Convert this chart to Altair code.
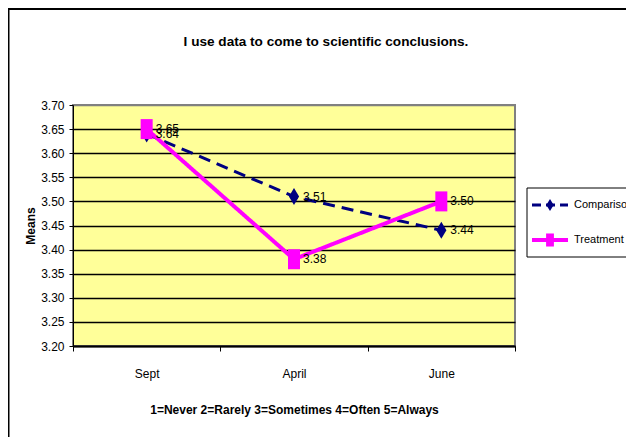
import altair as alt
import pandas as pd

# ---- data ----
months = ["Sept", "April", "June"]
series = ["Comparison", "Treatment"]
comparison = [3.64, 3.51, 3.44]
treatment = [3.65, 3.38, 3.50]
y_ticks = [3.20, 3.25, 3.30, 3.35, 3.40, 3.45, 3.50, 3.55, 3.60, 3.65, 3.70]
colors = ["#000080", "#FF00FF"]
title_text = "I use data to come to scientific conclusions."
x_title = "1=Never  2=Rarely  3=Sometimes 4=Often 5=Always"
y_title = "Means"

FONT = "Liberation Sans, Arial, sans-serif"
DIAMOND = "M0,-1L0.6,0L0,1L-0.6,0Z"
SQUARE = "M-0.6,-1H0.6V1H-0.6Z"

values = {"Comparison": comparison, "Treatment": treatment}
df = pd.DataFrame({
    "month": [m for s in series for m in months],
    "series": [s for s in series for _ in months],
    "value": [v for s in series for v in values[s]],
})

x_enc = alt.X(
    "month:N", sort=months, title=x_title, bandPosition=0.5,
    scale=alt.Scale(type="band", paddingInner=0, paddingOuter=0),
    axis=alt.Axis(
        labelAngle=0, tickBand="extent", grid=False,
        domainColor="black", domainWidth=2, tickColor="black", tickSize=5,
        labelFont=FONT, labelFontSize=12, labelColor="black", labelPadding=17,
        titleFont=FONT, titleFontSize=12, titleFontWeight="bold", titleColor="black",
        titlePadding=25,
    ),
)
y_enc = alt.Y(
    "value:Q", title=y_title,
    scale=alt.Scale(domain=[3.2, 3.7], nice=False, zero=False),
    axis=alt.Axis(
        values=y_ticks, format=".2f",
        domainColor="black", domainWidth=1, tickColor="black", tickSize=4,
        labelFont=FONT, labelFontSize=12, labelColor="black", labelPadding=5,
        titleFont=FONT, titleFontSize=12, titleFontWeight="bold", titleColor="black",
        titlePadding=3,
        gridColor={"condition": {"test": "datum.value >= 3.69", "value": "#808080"}, "value": "black"},
        gridWidth=1.5,
    ),
)

base = alt.Chart(df)
one = pd.DataFrame({"a": [0]})

# decorative outer frame (left and top edges visible)
frame_left = alt.Chart(one).mark_rule(color="black", strokeWidth=2).encode(
    x=alt.value(-64.5), y=alt.value(-96), y2=alt.value(340))
frame_top = alt.Chart(one).mark_rule(color="black", strokeWidth=2).encode(
    x=alt.value(-65), x2=alt.value(600), y=alt.value(-96))

# chart title as a text element
title_mark = alt.Chart(pd.DataFrame({"t": [title_text]})).mark_text(
    align="center", baseline="middle", font=FONT, fontSize=13.6, fontWeight="bold",
    color="black").encode(x=alt.value(253), y=alt.value(-63), text="t:N")

layers = [frame_left, frame_top, title_mark]

styles = {
    "Comparison": dict(strokeWidth=3, strokeDash=[12, 7], shape=DIAMOND, size=289),
    "Treatment": dict(strokeWidth=4, strokeDash=[1, 0], shape=SQUARE, size=400),
}

for s, c in zip(series, colors):
    st = styles[s]
    sub = base.transform_filter(alt.datum.series == s)
    layers.append(sub.mark_line(color=c, strokeWidth=st["strokeWidth"],
                                strokeDash=st["strokeDash"]).encode(x=x_enc, y=y_enc))
    layers.append(sub.mark_point(shape=st["shape"], size=st["size"], filled=True,
                                 color=c, opacity=1).encode(x=x_enc, y=y_enc))

labels = base.mark_text(align="left", baseline="middle", dx=9, font=FONT,
                        fontSize=12, color="black").encode(
    x=x_enc, y=y_enc, text=alt.Text("value:Q", format=".2f"))
layers.append(labels)

# legend box
legend_box = alt.Chart(one).mark_rect(fill="white", stroke="black", strokeWidth=1).encode(
    x=alt.value(454), x2=alt.value(600), y=alt.value(83), y2=alt.value(152))
layers.append(legend_box)
rows = [100, 135]
legend_sizes = {"Comparison": 150, "Treatment": 170}
for s, c, r in zip(series, colors, rows):
    st = styles[s]
    ld = pd.DataFrame({"series": [s]})
    layers.append(alt.Chart(ld).mark_rule(color=c, strokeWidth=st["strokeWidth"],
                                          strokeDash=[9, 5] if s == "Comparison" else [1, 0]).encode(
        x=alt.value(459), x2=alt.value(495), y=alt.value(r)))
    layers.append(alt.Chart(ld).mark_point(shape=st["shape"], size=legend_sizes[s], filled=True,
                                           color=c, opacity=1).encode(
        x=alt.value(477), y=alt.value(r)))
    layers.append(alt.Chart(ld).mark_text(align="left", baseline="middle", font=FONT,
                                          fontSize=11, color="black").encode(
        x=alt.value(501), y=alt.value(r), text="series:N"))

chart = alt.layer(*layers).properties(
    width=442, height=241,
    autosize=alt.AutoSizeParams(type="none"),
    padding={"left": 65, "top": 97, "right": 111, "bottom": 91},
    background="white",
).configure_view(stroke="#808080", strokeWidth=2, fill="#FFFF99")

chart.save("out.html", embed_options={"renderer": "svg", "actions": False})
